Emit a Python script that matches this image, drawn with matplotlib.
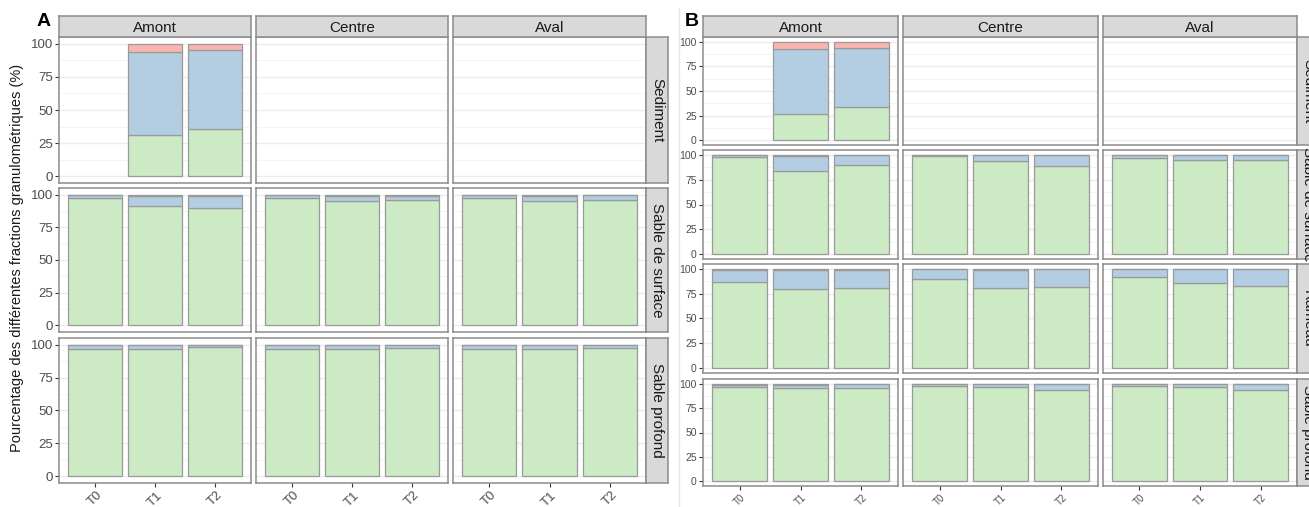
import numpy as np
import matplotlib
matplotlib.use("Agg")
import matplotlib.pyplot as plt

plt.rcParams['font.family'] = ['Liberation Sans', 'DejaVu Sans']

W, H = 1309, 507

times = ['T0', 'T1', 'T2']
sites = ['Amont', 'Centre', 'Aval']
rows_A = ['Sediment', 'Sable de surface', 'Sable profond']
rows_B = ['Sediment', 'Sable de surface', 'Rameau', 'Sable profond']

N = None
# Panel A: [row][site][time]
A_green = [
    [[N, 31, 36], [N, N, N], [N, N, N]],
    [[97, 91, 90], [97, 95, 96], [97, 95, 96]],
    [[97, 97, 98], [97, 97, 97.5], [97, 96.5, 97.5]],
]
A_blue = [
    [[N, 63, 59], [N, N, N], [N, N, N]],
    [[2.5, 8, 9], [2.5, 3.8, 3], [2.5, 4, 3.5]],
    [[2.5, 2.5, 1.5], [2.5, 2.5, 2], [2.5, 3, 2]],
]
A_red = [
    [[N, 6, 5], [N, N, N], [N, N, N]],
    [[0.5, 1, 1], [0.5, 1.2, 1], [0.5, 1, 0.5]],
    [[0.5, 0.5, 0.5], [0.5, 0.5, 0.5], [0.5, 0.5, 0.5]],
]

# Panel B: [row][site][time]
B_green = [
    [[N, 27, 34], [N, N, N], [N, N, N]],
    [[98, 84, 90], [98.5, 94, 89], [97, 95, 95]],
    [[87, 80, 81], [90, 81, 82], [91.5, 86, 83]],
    [[97, 96, 96], [97.5, 96.5, 94], [97.5, 96.5, 94]],
]
B_blue = [
    [[N, 66, 60], [N, N, N], [N, N, N]],
    [[1.5, 15, 9.5], [1, 5.5, 10.5], [2.5, 4.5, 4.5]],
    [[12, 19, 18], [9.5, 18, 17.5], [8, 13.5, 16.5]],
    [[2, 3, 3.5], [2, 3, 5.5], [2, 3, 5.5]],
]
B_red = [
    [[N, 7, 6], [N, N, N], [N, N, N]],
    [[0.5, 1, 0.5], [0.5, 0.5, 0.5], [0.5, 0.5, 0.5]],
    [[1, 1, 1], [0.5, 1, 0.5], [0.5, 0.5, 0.5]],
    [[1, 1, 0.5], [0.5, 0.5, 0.5], [0.5, 0.5, 0.5]],
]

C_GREEN = '#CCEBC5'
C_BLUE = '#B3CDE3'
C_RED = '#FBB4AE'
EDGE = '#9a9a9a'
BORDER = '#8c8c8c'
STRIP = '#D9D9D9'
TICKC = '#4D4D4D'

fig = plt.figure(figsize=(W / 100, H / 100), dpi=100)


def px_axes(x0, y0, x1, y1):
    return fig.add_axes([x0 / W, 1 - y1 / H, (x1 - x0) / W, (y1 - y0) / H])


def style_border(ax, lw=1.1):
    for s in ax.spines.values():
        s.set_color(BORDER)
        s.set_linewidth(lw)


def draw_grid(cols, rows, green, blue, red, row_names, ytick_fs, xtick_fs, strip_w):
    nrow = len(rows)
    for r, (y0, y1) in enumerate(rows):
        for c, (x0, x1) in enumerate(cols):
            ax = px_axes(x0, y0, x1, y1)
            ax.set_xlim(-0.6, 2.6)
            ax.set_ylim(-5, 105)
            for yv in [12.5, 37.5, 62.5, 87.5]:
                ax.axhline(yv, color='#F2F2F2', lw=0.6, zorder=0)
            for yv in [0, 25, 50, 75, 100]:
                ax.axhline(yv, color='#EBEBEB', lw=1.0, zorder=0)
            x = np.arange(len(times))
            for i in range(len(times)):
                g = green[r][c][i]
                if g is None:
                    continue
                b = blue[r][c][i]
                rd = red[r][c][i]
                ax.bar(x[i], g, width=0.9, color=C_GREEN, edgecolor=EDGE, lw=0.9, zorder=2)
                ax.bar(x[i], b, bottom=g, width=0.9, color=C_BLUE, edgecolor=EDGE, lw=0.9, zorder=2)
                ax.bar(x[i], rd, bottom=g + b, width=0.9, color=C_RED, edgecolor=EDGE, lw=0.9, zorder=2)
            style_border(ax)
            ax.set_yticks([0, 25, 50, 75, 100])
            ax.set_xticks(x)
            ax.tick_params(axis='both', length=3, width=0.8, color='#333333', pad=1.5)
            if c == 0:
                ax.set_yticklabels(['0', '25', '50', '75', '100'], fontsize=ytick_fs, color=TICKC)
            else:
                ax.tick_params(axis='y', left=False, labelleft=False)
            if r == nrow - 1:
                ax.set_xticklabels(times, fontsize=xtick_fs, color=TICKC, rotation=45,
                                   ha='center', va='top')
            else:
                ax.tick_params(axis='x', bottom=False, labelbottom=False)
            # top strips
            if r == 0:
                sa = px_axes(x0, 16, x1, 37)
                sa.set_facecolor(STRIP)
                sa.set_xticks([]); sa.set_yticks([])
                style_border(sa)
                sa.text(0.5, 0.45, sites[c], ha='center', va='center', fontsize=11,
                        color='#1A1A1A', transform=sa.transAxes)
            if c == len(cols) - 1:
                sa = px_axes(x1, y0, x1 + strip_w, y1)
                sa.set_facecolor(STRIP)
                sa.set_xticks([]); sa.set_yticks([])
                style_border(sa)
                sa.text(0.5, 0.5, row_names[r], ha='center', va='center', fontsize=11,
                        color='#1A1A1A', rotation=-90, transform=sa.transAxes)


# Panel A
cols_A = [(59, 251), (256, 448), (453, 646)]
rowsA = [(37, 183), (188, 332), (338, 483)]
draw_grid(cols_A, rowsA, A_green, A_blue, A_red, rows_A, 9.5, 9.5, 22)

# Panel B
cols_B = [(703, 898), (903, 1098), (1103, 1297)]
rowsB = [(37, 145), (150, 259), (264, 373), (379, 486)]
draw_grid(cols_B, rowsB, B_green, B_blue, B_red, rows_B, 7.5, 7, 22)

# separator line of the composite
fig.add_artist(plt.Line2D([679 / W, 679 / W], [0, 1 - 8 / H], color='#E6E6E6', lw=1))

fig.text(37 / W, 1 - 22 / H, 'A', fontsize=14, fontweight='bold', ha='left', va='center')
fig.text(685 / W, 1 - 22 / H, 'B', fontsize=14, fontweight='bold', ha='left', va='center')
fig.text(17 / W, 1 - 258 / H, 'Pourcentage des différentes fractions granulométriques (%)',
         rotation=90, ha='center', va='center', fontsize=10.5, color='#1A1A1A')

fig.savefig('out.png', dpi=100)
